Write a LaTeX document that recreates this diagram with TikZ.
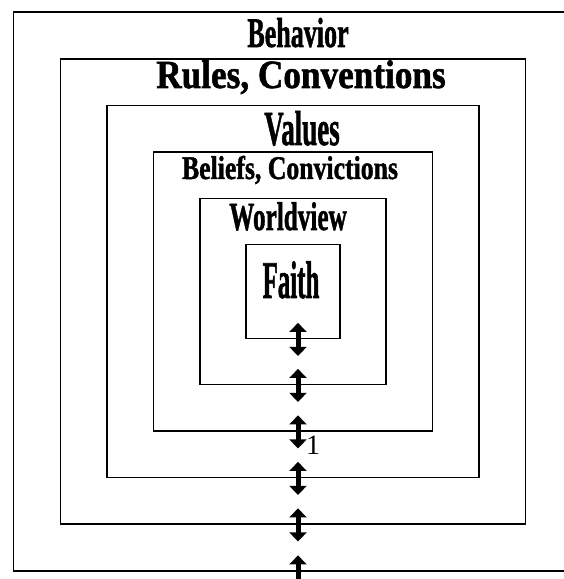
\documentclass[tikz,border=0pt]{standalone}
\usepackage{fontspec}
\setmainfont{Liberation Serif}
\newfontfamily\heavyfont[FakeBold=1.5]{Liberation Serif Bold}
\usetikzlibrary{positioning, arrows.meta, calc}

\begin{document}
\begin{tikzpicture}[
        x=1pt, y=1pt,
        layer/.style={
            rectangle,
            draw=black,
            line width=1.8pt,
            inner sep=0pt
        },
        tag/.style 2 args={
            anchor=base,
            inner sep=0pt,
            text depth=0pt,
            xscale=#2,
            font=\heavyfont\fontsize{#1}{#1}\selectfont
        },
        link/.style={
            {Triangle[width=17pt,length=9pt]}-{Triangle[width=17pt,length=9pt]},
            line width=5pt
        }
    ]
    \useasboundingbox (0,0) rectangle (564,579);
    \clip (0,0) rectangle (564,579);

    % nested layers, innermost first
    \foreach \name/\size in {faith/94, worldview/186, beliefs/279, values/372, rules/465, behavior/559} {
        \node[layer, minimum width=\size pt, minimum height=\size pt] (\name) at (293,287.5) {};
    }

    % layer titles
    \node[tag={42}{0.62}] (tbehavior) at (298,532) {Behavior};
    \node[tag={40}{0.88}] (trules) at (301,491) {Rules, Conventions};
    \node[tag={49}{0.55}] (tvalues) at (302,434) {Values};
    \node[tag={33}{0.78}] (tbeliefs) at (290,400) {Beliefs, Convictions};
    \node[tag={40}{0.63}] (tworldview) at (288,349) {Worldview};
    \node[tag={53}{0.47}] (tfaith) at (291,281) {Faith};

    % arrows across each layer
    \foreach \name in {faith, worldview, beliefs, values, rules, behavior} {
        \draw[link] ($(\name.south)+(5,16.5)$) -- ($(\name.south)+(5,-16.5)$);
    }

    \node[anchor=base, inner sep=0pt, font=\fontsize{28}{28}\selectfont] (note) at (313,124) {1};

\end{tikzpicture}
\end{document}
